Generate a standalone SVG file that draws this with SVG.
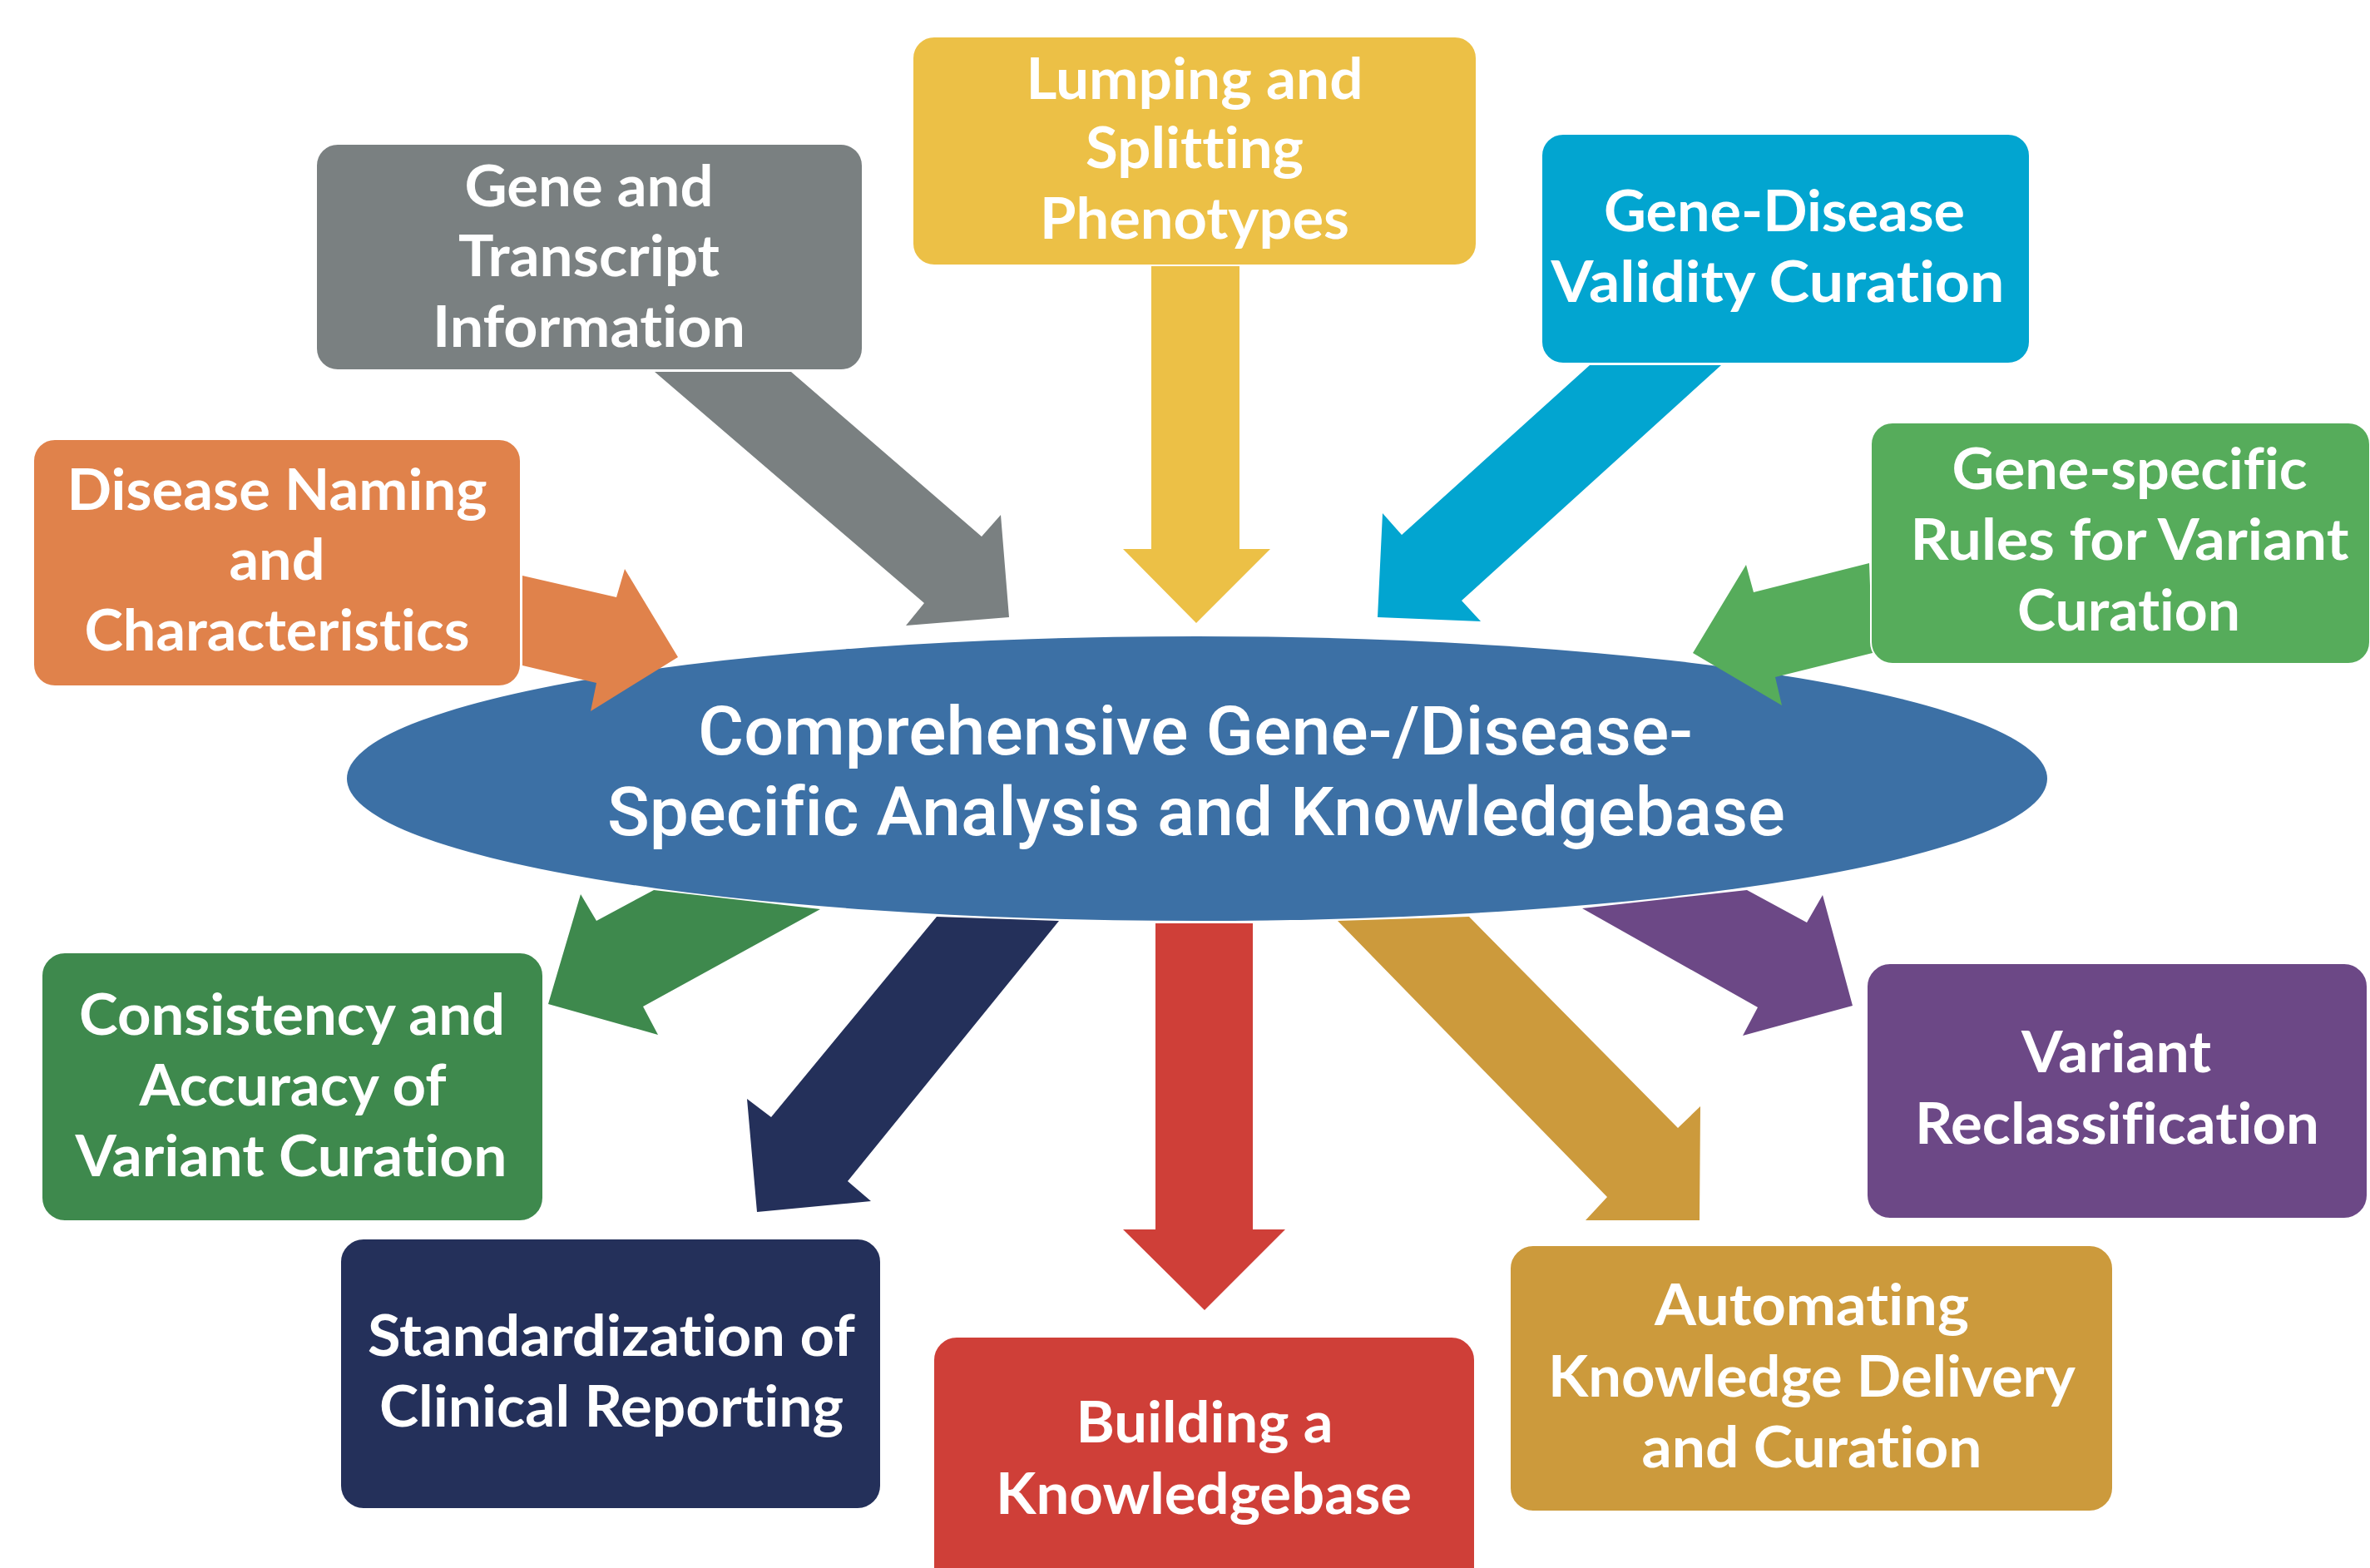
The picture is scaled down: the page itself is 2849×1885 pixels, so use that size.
<svg xmlns="http://www.w3.org/2000/svg" width="2849" height="1885" viewBox="0 0 2849 1885">
  <style>
    .box { stroke: #ffffff; stroke-width: 2; }
    .lbl { font-family: Lato, "Open Sans", "Liberation Sans", sans-serif; font-weight: 700; font-size: 68px; fill: #ffffff; text-anchor: middle; font-variant-ligatures: none; }
    .hub { font-family: Roboto, "Liberation Sans", sans-serif; font-weight: 500; font-size: 82px; fill: #ffffff; text-anchor: middle; font-variant-ligatures: none; }
  </style>
  <rect width="2849" height="1885" fill="#ffffff"/>

  <!-- central hub -->
  <g id="hub">
    <ellipse cx="1439" cy="936" rx="1022" ry="171" fill="#3C70A5"/>
    <text class="hub" x="1437" y="907" textLength="1196" lengthAdjust="spacingAndGlyphs">Comprehensive Gene-/Disease-</text>
    <text class="hub" x="1438" y="1004" textLength="1416" lengthAdjust="spacingAndGlyphs">Specific Analysis and Knowledgebase</text>
  </g>

  <!-- block arrows between the hub and the topic boxes -->
  <g id="connectors">
    <polygon fill="#E0824B" points="628,692 741,718 751,684 815,790 710,855 717,821 628,800"/>
    <polygon fill="#7A8081" points="787,447 951,447 1180,645 1203,619 1213,742 1089,752 1111,725"/>
    <polygon fill="#ECC046" points="1384,320 1490,320 1490,660 1527,660 1438,749 1350,660 1384,660"/>
    <polygon fill="#02A5D0" points="1911,439 2069,439 1757,722 1780,747 1656,742 1662,617 1685,643"/>
    <polygon fill="#56AC5B" points="2247,677 2108,712 2099,679 2035,785 2142,848 2134,814 2251,785"/>
    <polygon fill="#3E894D" points="986,1093 773,1210 791,1244 659,1207 698,1075 717,1107 786,1070"/>
    <polygon fill="#24305A" points="1126,1102 1273,1107 1019,1420 1047,1444 910,1457 898,1321 927,1343"/>
    <polygon fill="#CF3F38" points="1389,1110 1506,1110 1506,1478 1545,1478 1448,1575 1350,1478 1389,1478"/>
    <polygon fill="#CC9A3C" points="1608,1107 1766,1102 2017,1356 2044,1330 2043,1467 1906,1467 1932,1439"/>
    <polygon fill="#6C4886" points="1902,1092 2100,1070 2172,1109 2191,1076 2227,1209 2095,1245 2113,1211"/>
  </g>

  <g id="gene-transcript">
    <rect class="box" x="380" y="173" width="657" height="272" rx="26" fill="#7A8081"/>
    <text class="lbl" x="708" y="248" textLength="299" lengthAdjust="spacingAndGlyphs">Gene and</text>
    <text class="lbl" x="708" y="332" textLength="314" lengthAdjust="spacingAndGlyphs">Transcript</text>
    <text class="lbl" x="708" y="417" textLength="376" lengthAdjust="spacingAndGlyphs">Information</text>
  </g>

  <g id="disease-naming">
    <rect class="box" x="40" y="528" width="586" height="297" rx="26" fill="#E0824B"/>
    <text class="lbl" x="333" y="613" textLength="505" lengthAdjust="spacingAndGlyphs">Disease Naming</text>
    <text class="lbl" x="333" y="697" textLength="115" lengthAdjust="spacingAndGlyphs">and</text>
    <text class="lbl" x="333" y="782" textLength="463" lengthAdjust="spacingAndGlyphs">Characteristics</text>
  </g>

  <g id="lumping-splitting">
    <rect class="box" x="1097" y="44" width="678" height="275" rx="26" fill="#ECC046"/>
    <text class="lbl" x="1436" y="119" textLength="405" lengthAdjust="spacingAndGlyphs">Lumping and</text>
    <text class="lbl" x="1436" y="202" textLength="262" lengthAdjust="spacingAndGlyphs">Splitting</text>
    <text class="lbl" x="1436" y="287" textLength="372" lengthAdjust="spacingAndGlyphs">Phenotypes</text>
  </g>

  <g id="gene-disease-validity">
    <rect class="box" x="1853" y="161" width="587" height="276" rx="26" fill="#02A5D0"/>
    <text class="lbl" x="2145" y="278" textLength="434" lengthAdjust="spacingAndGlyphs">Gene-Disease</text>
    <text class="lbl" x="2137" y="363" textLength="545" lengthAdjust="spacingAndGlyphs">Validity Curation</text>
  </g>

  <g id="gene-specific-rules">
    <rect class="box" x="2249" y="508" width="600" height="290" rx="26" fill="#56AC5B"/>
    <text class="lbl" x="2560" y="588" textLength="427" lengthAdjust="spacingAndGlyphs">Gene-specific</text>
    <text class="lbl" x="2560" y="673" textLength="527" lengthAdjust="spacingAndGlyphs">Rules for Variant</text>
    <text class="lbl" x="2559" y="758" textLength="268" lengthAdjust="spacingAndGlyphs">Curation</text>
  </g>

  <g id="consistency-accuracy">
    <rect class="box" x="50" y="1145" width="603" height="323" rx="28" fill="#3E894D"/>
    <text class="lbl" x="351" y="1244" textLength="512" lengthAdjust="spacingAndGlyphs">Consistency and</text>
    <text class="lbl" x="352" y="1329" textLength="369" lengthAdjust="spacingAndGlyphs">Accuracy of</text>
    <text class="lbl" x="350" y="1414" textLength="519" lengthAdjust="spacingAndGlyphs">Variant Curation</text>
  </g>

  <g id="clinical-reporting">
    <rect class="box" x="409" y="1489" width="650" height="325" rx="28" fill="#24305A"/>
    <text class="lbl" x="735" y="1630" textLength="586" lengthAdjust="spacingAndGlyphs">Standardization of</text>
    <text class="lbl" x="735" y="1715" textLength="558" lengthAdjust="spacingAndGlyphs">Clinical Reporting</text>
  </g>

  <g id="building-knowledgebase">
    <rect class="box" x="1122" y="1607" width="651" height="320" rx="28" fill="#CF3F38"/>
    <text class="lbl" x="1448" y="1734" textLength="309" lengthAdjust="spacingAndGlyphs">Building a</text>
    <text class="lbl" x="1447" y="1820" textLength="500" lengthAdjust="spacingAndGlyphs">Knowledgebase</text>
  </g>

  <g id="automating-delivery">
    <rect class="box" x="1815" y="1497" width="725" height="320" rx="28" fill="#CC9A3C"/>
    <text class="lbl" x="2178" y="1593" textLength="378" lengthAdjust="spacingAndGlyphs">Automating</text>
    <text class="lbl" x="2178" y="1679" textLength="634" lengthAdjust="spacingAndGlyphs">Knowledge Delivery</text>
    <text class="lbl" x="2178" y="1764" textLength="409" lengthAdjust="spacingAndGlyphs">and Curation</text>
  </g>

  <g id="variant-reclassification">
    <rect class="box" x="2244" y="1158" width="602" height="307" rx="28" fill="#6C4886"/>
    <text class="lbl" x="2544" y="1289" textLength="228" lengthAdjust="spacingAndGlyphs">Variant</text>
    <text class="lbl" x="2545" y="1375" textLength="486" lengthAdjust="spacingAndGlyphs">Reclassification</text>
  </g>
</svg>
